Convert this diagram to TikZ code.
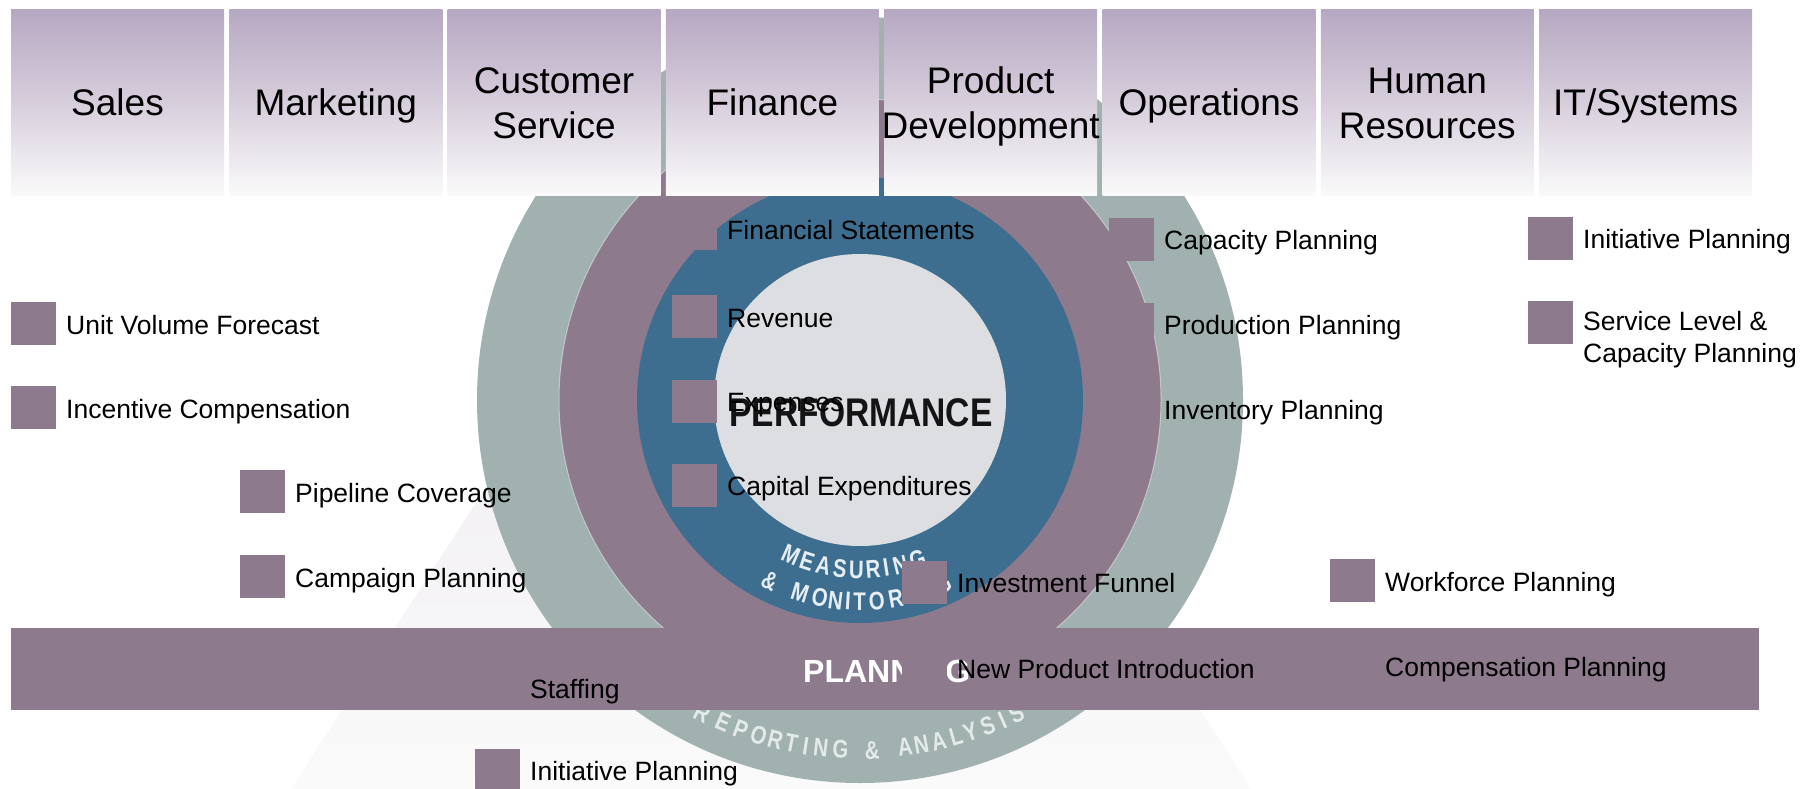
\documentclass[tikz,border=0pt]{standalone}
\usepackage{fontspec}
\setmainfont{Liberation Sans}
\newfontfamily\perffont{Liberation Sans Bold}[FakeStretch=0.84]
\newfontfamily\arcfont{Liberation Sans Bold}[FakeStretch=0.8]
\definecolor{ringgray}{HTML}{A0B1AF}
\definecolor{ringpurple}{HTML}{8E7A8D}
\definecolor{ringblue}{HTML}{3D6E8F}
\definecolor{ringlight}{HTML}{DDDEE2}
\definecolor{hdrtop}{HTML}{B6A8C2}
\definecolor{hdrmid}{HTML}{D7CEDC}
\definecolor{hdrbot}{HTML}{FAFAFA}
\definecolor{tritop}{HTML}{E9E4EC}
\definecolor{tribot}{HTML}{FAFAFA}
\definecolor{meastext}{HTML}{E6EEF3}
\definecolor{reptext}{HTML}{E4EAE9}
\newcommand\hstrut{\rule[-9pt]{0pt}{45pt}}
\newcommand\lstrut{\rule[-7pt]{0pt}{28pt}}
\newcommand\sqlabel[4]{%
  \node[sqbox] (#1sq) at ({#2+22.5},#3) {};
  \node[lbl] (#1) at ({#2+55},{#3-10.5}) {#4};}
\begin{document}
\begin{tikzpicture}[x=1pt, y=-1pt,
  hdrbox/.style={minimum height=185pt, text width=213pt, align=center, inner sep=0pt,
    top color=hdrtop, bottom color=hdrbot, middle color=hdrmid,
    font=\fontsize{37}{45}\selectfont, text=black},
  sqbox/.style={fill=ringpurple, minimum width=45pt, minimum height=43pt, inner sep=0pt},
  lbl/.style={anchor=north west, inner sep=0pt, font=\fontsize{26.5}{32}\selectfont,
    align=left, text=black, execute at begin node=\lstrut},
  arcl/.style={inner sep=0pt, text height=18pt, text depth=0pt,
    font=\arcfont\fontsize{25.5}{25.5}\selectfont}]
\useasboundingbox (0,0) rectangle (1808,789);
\fill[white] (0,0) rectangle (1808,789);
% background pyramid
\shade[top color=tritop, bottom color=tribot] (771,46) -- (291,789) -- (1251,789) -- cycle;
% rings
\coordinate (ctr) at (860,400);
\fill[ringgray] (ctr) circle[radius=383pt];
\fill[ringpurple] (ctr) circle[radius=301pt];
\draw[white, opacity=0.45, line width=1pt] (ctr) circle[radius=301pt];
\fill[ringblue] (ctr) circle[radius=223pt];
\fill[ringlight] (ctr) circle[radius=146pt];
% centre word
\node[font=\perffont\fontsize{40}{40}\selectfont, anchor=base, inner sep=0pt, text=black!92] (perf) at (861,426) {PERFORMANCE};
% curved texts
\foreach \ch/\a [count=\i] in {M/-24,E/-18.2,A/-12.4,S/-6.8,U/-1.2,R/4.4,I/8.8,N/13.8,G/19.8}
  \path (ctr) ++({90-\a}:169.5) node[arcl, text=meastext, rotate=\a] (mea\i) {\ch};
\foreach \ch/\a [count=\i] in {\&/-26.5,M/-17.3,O/-11.5,N/-7.0,I/-3.4,T/-0.1,O/4.8,R/10.2,I/14.6,N/18.8,G/24.2}
  \path (ctr) ++({90-\a}:201.5) node[arcl, text=meastext, rotate=\a] (mon\i) {\ch};
\foreach \ch/\a [count=\i] in {R/-26.8,E/-23.0,P/-19.9,O/-16.8,R/-14.0,T/-11.3,I/-8.9,N/-6.4,G/-3.2,\&/2.0,A/7.4,N/10.1,A/13.0,L/15.9,Y/18.4,S/21.4,I/24.0,S/26.5}
  \path (ctr) ++({90-\a}:350) node[arcl, text=reptext, rotate=\a] (rep\i) {\ch};
% header boxes
\node[hdrbox] (sales) at (117.5,102.5) {Sales\hstrut};
\node[hdrbox] (mkt) at (335.8,102.5) {Marketing\hstrut};
\node[hdrbox] (cust) at (554.1,102.5) {Customer\hstrut\\Service\hstrut};
\node[hdrbox] (finance) at (772.4,102.5) {Finance\hstrut};
\node[hdrbox] (proddev) at (990.7,102.5) {Product\hstrut\\\makebox[\linewidth]{Development}\hstrut};
\node[hdrbox] (ops) at (1209.0,102.5) {Operations\hstrut};
\node[hdrbox] (hr) at (1427.3,102.5) {Human\hstrut\\Resources\hstrut};
\node[hdrbox] (it) at (1645.6,102.5) {IT/Systems\hstrut};
% planning band
\node[fill=ringpurple, minimum width=1748pt, minimum height=82pt, inner sep=0pt] (bar) at (885,669) {};
\node[font=\bfseries\fontsize{32}{32}\selectfont, text=white, anchor=base west, inner sep=0pt] (plan) at (803,682) {PLANNING};
% items
\sqlabel{uvf}{11}{323.5}{Unit Volume Forecast}
\sqlabel{inc}{11}{407.5}{Incentive Compensation}
\sqlabel{pip}{240}{491.5}{Pipeline Coverage}
\sqlabel{cam}{240}{576.5}{Campaign Planning}
\sqlabel{staff}{475}{688}{Staffing}
\sqlabel{initA}{475}{770}{Initiative Planning}
\sqlabel{fin}{672}{228.5}{Financial Statements}
\sqlabel{rev}{672}{316.5}{Revenue}
\sqlabel{exps}{672}{401}{Expenses}
\sqlabel{capex}{672}{485}{Capital Expenditures}
\sqlabel{capa}{1109}{239}{Capacity Planning}
\sqlabel{prod}{1109}{324}{Production Planning}
\sqlabel{inv}{1109}{409}{Inventory Planning}
\sqlabel{invf}{902}{582}{Investment Funnel}
\sqlabel{npi}{902}{668}{New Product Introduction}
\sqlabel{work}{1330}{580.5}{Workforce Planning}
\sqlabel{comp}{1330}{666}{Compensation Planning}
\sqlabel{initB}{1528}{238}{Initiative Planning}
\sqlabel{serv}{1528}{322}{Service Level \&\\Capacity Planning}
\end{tikzpicture}
\end{document}
